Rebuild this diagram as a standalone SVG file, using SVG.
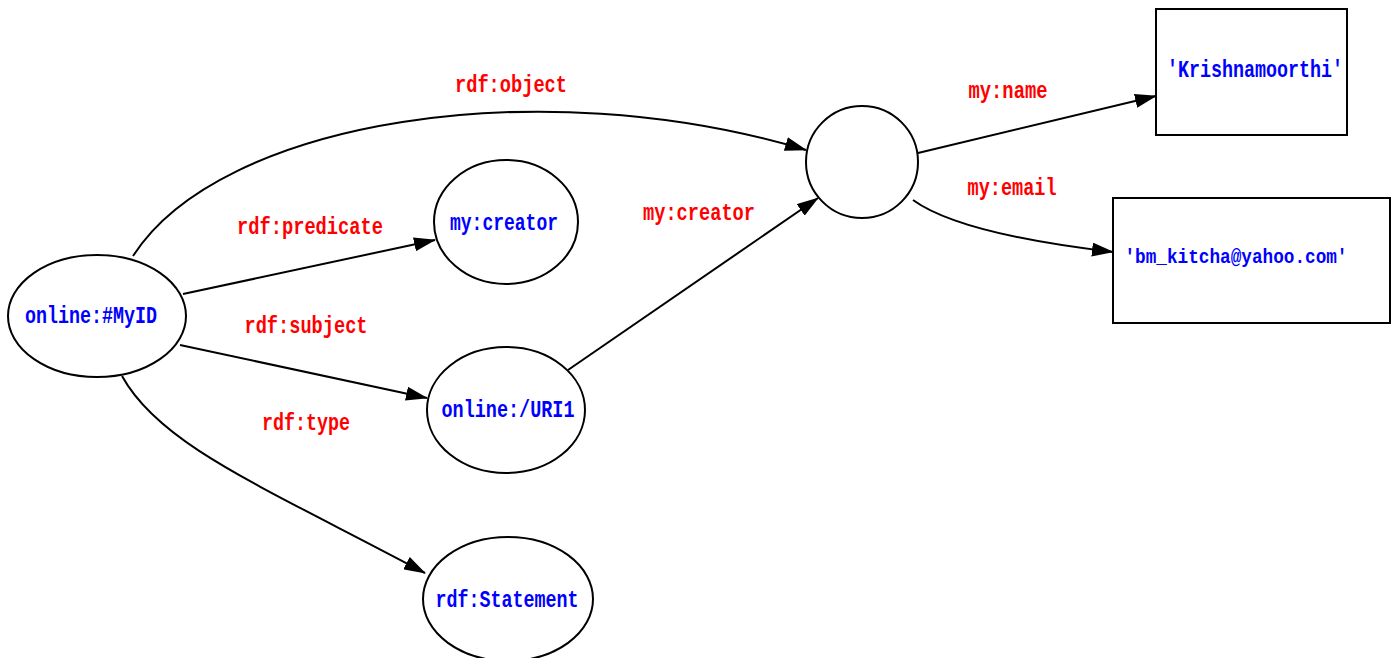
<svg xmlns="http://www.w3.org/2000/svg" width="1397" height="658" viewBox="0 0 1397 658">
<style>
.n{fill:#fff;stroke:#000;stroke-width:2}
.t{font-family:"Liberation Mono","DejaVu Sans Mono",monospace;font-weight:bold;font-size:24px;fill:#0000ff;text-anchor:middle;dominant-baseline:central}
.l{font-family:"Liberation Mono","DejaVu Sans Mono",monospace;font-weight:bold;font-size:24px;fill:#ff0000;text-anchor:middle;dominant-baseline:central}
.e{fill:none;stroke:#000;stroke-width:2;marker-end:url(#a)}
</style>
<defs>
<marker id="a" markerWidth="22" markerHeight="14" refX="21" refY="7" orient="auto" markerUnits="userSpaceOnUse">
<path d="M0,0 L22,7 L0,14 Z" fill="#000"/>
</marker>
</defs>
<rect width="1397" height="658" fill="#fff"/>
<g id="edges">
<path class="e" d="M133,256 C 220,120 540,70 806,150"/>
<path class="e" d="M183,294 L435,240"/>
<path class="e" d="M180,345 L427,398"/>
<path class="e" d="M122,376 C 160,445 260,485 425,573"/>
<path class="e" d="M568,370 L818,198"/>
<path class="e" d="M918,153 L1156,96"/>
<path class="e" d="M913,200 Q 960,234 1113,252"/>
</g>
<g id="labels">
<text class="l" x="511" y="85" textLength="112" lengthAdjust="spacingAndGlyphs">rdf:object</text>
<text class="l" x="310" y="227" textLength="146" lengthAdjust="spacingAndGlyphs">rdf:predicate</text>
<text class="l" x="306" y="326" textLength="123" lengthAdjust="spacingAndGlyphs">rdf:subject</text>
<text class="l" x="306" y="423" textLength="88" lengthAdjust="spacingAndGlyphs">rdf:type</text>
<text class="l" x="699" y="213" textLength="112" lengthAdjust="spacingAndGlyphs">my:creator</text>
<text class="l" x="1008" y="91" textLength="79" lengthAdjust="spacingAndGlyphs">my:name</text>
<text class="l" x="1012" y="188" textLength="89" lengthAdjust="spacingAndGlyphs">my:email</text>
</g>
<g id="myid"><ellipse class="n" cx="97" cy="316" rx="89" ry="61"/><text class="t" x="91" y="316" textLength="132" lengthAdjust="spacingAndGlyphs">online:#MyID</text></g>
<g id="creator"><ellipse class="n" cx="506" cy="222" rx="72" ry="62"/><text class="t" x="504" y="223" textLength="108" lengthAdjust="spacingAndGlyphs">my:creator</text></g>
<g id="uri1"><ellipse class="n" cx="506" cy="410" rx="79" ry="63"/><text class="t" x="508" y="410" textLength="133" lengthAdjust="spacingAndGlyphs">online:/URI1</text></g>
<g id="statement"><ellipse class="n" cx="508" cy="599" rx="85" ry="62"/><text class="t" x="507" y="600" textLength="143" lengthAdjust="spacingAndGlyphs">rdf:Statement</text></g>
<g id="blank"><circle class="n" cx="862" cy="162" r="56"/></g>
<g id="name"><rect class="n" x="1156" y="9" width="191" height="126"/><text class="t" x="1255" y="70" textLength="176" lengthAdjust="spacingAndGlyphs">'Krishnamoorthi'</text></g>
<g id="email"><rect class="n" x="1113" y="198" width="277" height="125"/><text class="t" x="1236" y="257" style="font-size:21px" textLength="223" lengthAdjust="spacingAndGlyphs">'bm_kitcha@yahoo.com'</text></g>
</svg>
